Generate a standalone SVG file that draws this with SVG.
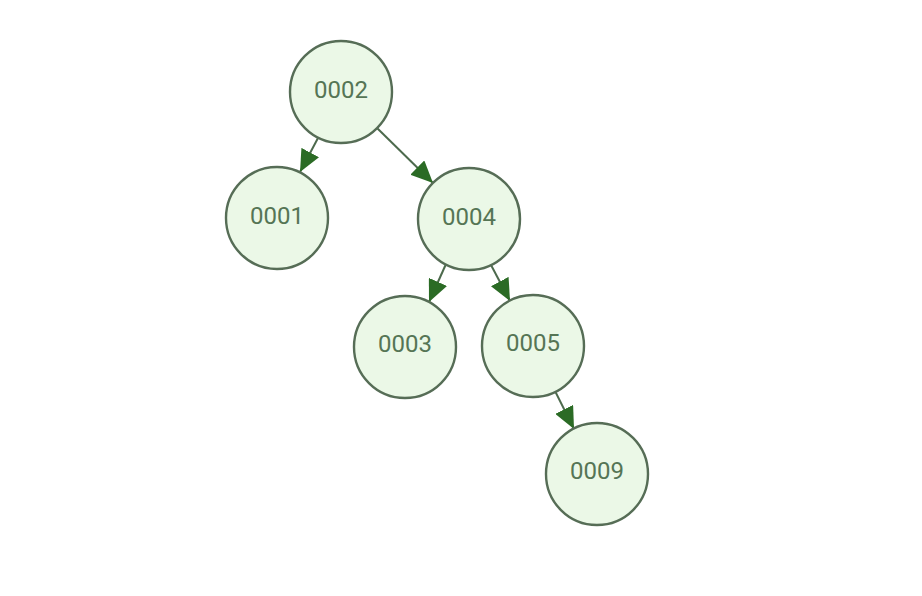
<svg xmlns="http://www.w3.org/2000/svg" width="922" height="596" viewBox="0 0 922 596">
<style>
.node circle{fill:#ebf8e7;stroke:#566d56;stroke-width:2.4}
.node text{font-family:Roboto,"Liberation Sans",sans-serif;font-size:24px;fill:#557555;text-anchor:middle;dominant-baseline:central}
.edges line{stroke:#4d6a4d;stroke-width:2;marker-end:url(#ah)}
</style>
<defs>
<marker id="ah" viewBox="0 0 22 20" refX="22" refY="10" markerWidth="22" markerHeight="20" markerUnits="userSpaceOnUse" orient="auto">
<path d="M0,0 L22,10 L0,20 Z" fill="#2b6b25"/>
</marker>
</defs>
<rect width="922" height="596" fill="#ffffff"/>
<g class="edges">
<line x1="318" y1="138" x2="300" y2="172"/>
<line x1="377" y1="128" x2="433" y2="183"/>
<line x1="446" y1="264" x2="429" y2="302"/>
<line x1="491" y1="265" x2="510" y2="301"/>
<line x1="555" y1="391" x2="574" y2="429"/>
</g>
<g id="n0002" class="node"><circle cx="341" cy="92" r="51"/><text x="341" y="90">0002</text></g>
<g id="n0001" class="node"><circle cx="277" cy="218" r="51"/><text x="277" y="216">0001</text></g>
<g id="n0004" class="node"><circle cx="469" cy="219" r="51"/><text x="469" y="217">0004</text></g>
<g id="n0003" class="node"><circle cx="405" cy="347" r="51"/><text x="405" y="344">0003</text></g>
<g id="n0005" class="node"><circle cx="533" cy="346" r="51"/><text x="533" y="343">0005</text></g>
<g id="n0009" class="node"><circle cx="597" cy="474" r="51"/><text x="597" y="471">0009</text></g>
</svg>
